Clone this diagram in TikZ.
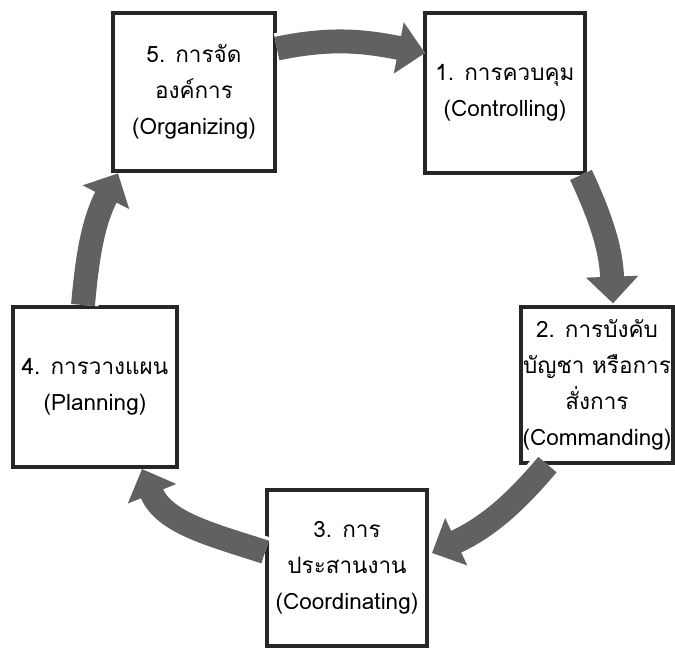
\documentclass[tikz,border=0pt]{standalone}
\usepackage{fontspec}
\newfontfamily\thaifont[Script=Thai]{Loma}
\usetikzlibrary{arrows.meta,calc}
\tikzset{
	stagebox/.style={draw=black!85, fill=white, line width=2.8pt, minimum width=4cm, minimum height=4cm, inner sep=0pt, align=center, font=\thaifont\fontsize{16}{25.5}\selectfont},
	cyclearrow/.style={draw=black!62, line width=17pt, -{Triangle[width=36pt,length=19pt]},
		preaction={draw=white, line width=22pt, -{Triangle[width=42pt,length=22pt]}}}
}
\begin{document}
\begin{tikzpicture}[x=0.025cm,y=0.025cm]
	\useasboundingbox (0,0) rectangle (675,-648);
	\node (b5) [stagebox, minimum width=4.05cm, minimum height=3.97cm] at (194,-92) {5. การจัด\\องค์การ\\(Organizing)};
	\node (b1) [stagebox] at (505,-93) {1. การควบคุม\\(Controlling)};
	\node (b2) [stagebox, minimum width=3.78cm, minimum height=3.88cm] at (597,-385) {2. การบังคับ\\บัญชา หรือการ\\สั่งการ\\(Commanding)};
	\node (b3) [stagebox, minimum height=3.9cm] at (347,-568) {3. การ\\ประสานงาน\\(Coordinating)};
	\node (b4) [stagebox, minimum width=4.1cm] at (95,-387) {4. การวางแผน\\(Planning)};
	\draw[cyclearrow] ($(b5.north east)+(0,-38)$) to[out=12,in=169] ($(b1.north west)+(2,-42)$);
	\draw[cyclearrow] ($(b1.south east)+(-6,0)$) to[out=-65,in=92] ($(b2.north)+(16,2)$);
	\draw[cyclearrow] ($(b2.south west)+(28,0)$) to[out=230,in=25] ($(b3.east)+(3,15)$);
	\draw[cyclearrow] ($(b3.west)+(0,16)$) to[out=162,in=-68] ($(b4.south east)+(-37,0)$);
	\draw[cyclearrow] ($(b4.north west)+(72,0)$) to[out=85,in=243] ($(b5.south west)+(7,0)$);
\end{tikzpicture}
\end{document}
